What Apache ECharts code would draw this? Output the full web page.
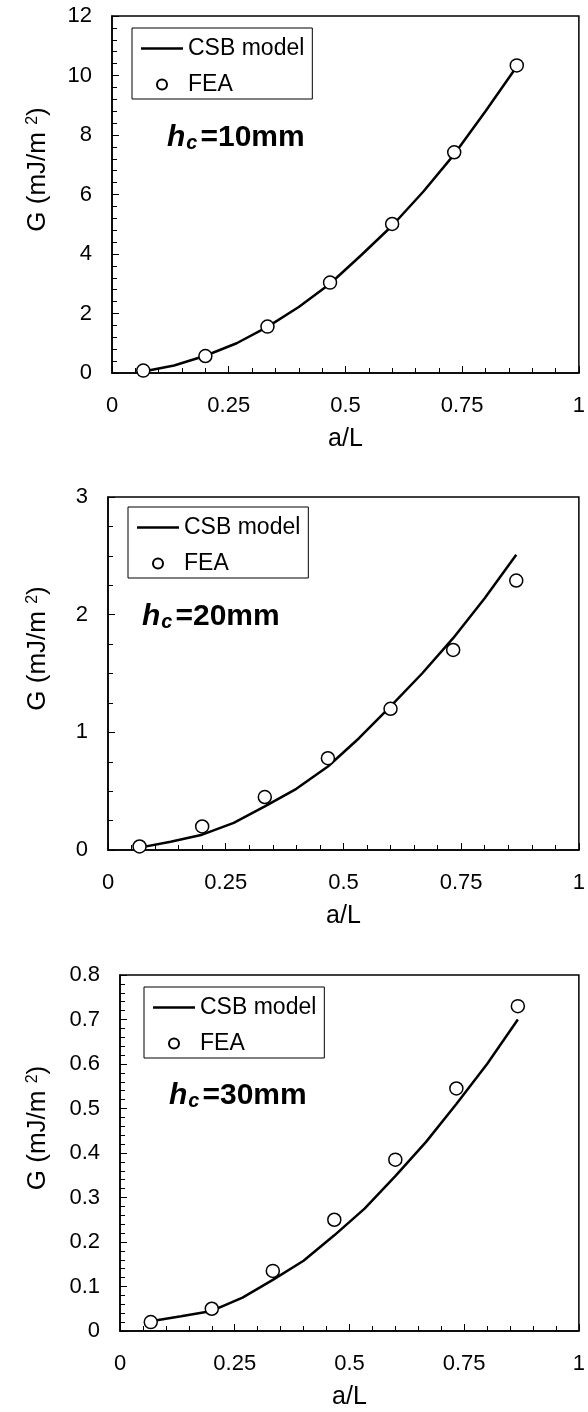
<!DOCTYPE html>
<html>
<head>
<meta charset="utf-8">
<script src="https://cdn.jsdelivr.net/npm/echarts@6/dist/echarts.min.js"></script>
<style>
  html, body { margin: 0; padding: 0; background: #fff; }
  #chart { width: 588px; height: 1412px; }
</style>
</head>
<body>
<div id="chart"></div>
<script>
// a/L positions of the FEA points and of the model curve
const xFEA = [0.067, 0.2, 0.333, 0.467, 0.6, 0.733, 0.867];
const xModel = [0.067, 0.133, 0.2, 0.267, 0.333, 0.4, 0.467, 0.533, 0.6, 0.667, 0.733, 0.8, 0.867];

// h_c = 10mm
const fea10 = [0.08, 0.57, 1.56, 3.04, 5.01, 7.42, 10.34];
const model10 = [0.05, 0.25, 0.58, 1.0, 1.55, 2.22, 3.0, 3.95, 4.95, 6.1, 7.35, 8.8, 10.3];

// h_c = 20mm
const fea20 = [0.03, 0.2, 0.45, 0.78, 1.2, 1.7, 2.29];
const model20 = [0.02, 0.07, 0.13, 0.23, 0.37, 0.52, 0.71, 0.95, 1.22, 1.5, 1.8, 2.14, 2.51];

// h_c = 30mm
const fea30 = [0.02, 0.05, 0.135, 0.25, 0.385, 0.545, 0.73];
const model30 = [0.022, 0.033, 0.045, 0.075, 0.115, 0.158, 0.215, 0.275, 0.348, 0.425, 0.51, 0.6, 0.70];

const seriesNames = ['CSB model', 'FEA'];
const xLabel = 'a/L';
const yLabel = '{t|G (mJ/m }{s|2}{t|)}';

const FONT = 'Liberation Sans, Arial, sans-serif';
// plain horizontal bar for the line entry of the legend (bbox 42 x 10)
const LINE_ICON = 'path://M0,0H0.01V0.01H0Z M0,3.75H42V6.25H0Z M0,9.99H0.01V10H0Z';

function pair(xs, ys) {
    return xs.map((x, i) => [x, ys[i]]);
}

// one entry per panel
const panels = [
    { grid: { left: 112, top: 16, width: 470, height: 357 }, yMax: 12, yStep: 2, yMinor: 5,
      model: model10, fea: fea10, tag: '=10mm', tagPos: [167, 138], legendPos: [132, 28], yGap: 61 },
    { grid: { left: 108, top: 497, width: 473, height: 353 }, yMax: 3, yStep: 1, yMinor: 4,
      model: model20, fea: fea20, tag: '=20mm', tagPos: [142, 617], legendPos: [128, 507], yGap: 57 },
    { grid: { left: 120, top: 975, width: 467, height: 356 }, yMax: 0.8, yStep: 0.1, yMinor: 5,
      model: model30, fea: fea30, tag: '=30mm', tagPos: [169, 1096], legendPos: [144, 987], yGap: 69 }
];

const blackLine = { color: '#000', width: 1.5 };

let option = {
    animation: false,
    backgroundColor: '#fff',
    textStyle: { fontFamily: FONT, color: '#000' },
    grid: [], xAxis: [], yAxis: [], series: [], legend: [], graphic: []
};

panels.forEach((p, i) => {
    option.grid.push(Object.assign({
        show: true, borderColor: '#000', borderWidth: 1.5, backgroundColor: 'transparent'
    }, p.grid));

    option.xAxis.push({
        gridIndex: i, type: 'value', min: 0, max: 1, interval: 0.25,
        axisLine: { show: true, lineStyle: blackLine },
        axisTick: { show: true, inside: true, length: 7, lineStyle: { color: '#000', width: 1 } },
        minorTick: { show: true, splitNumber: 5, length: 5, lineStyle: { color: '#000', width: 1 } },
        splitLine: { show: false },
        axisLabel: { fontSize: 22, color: '#000', fontFamily: FONT, margin: 22 },
        name: xLabel, nameLocation: 'middle', nameGap: 54,
        nameTextStyle: { fontSize: 25, color: '#000', fontFamily: FONT }
    });

    option.yAxis.push({
        gridIndex: i, type: 'value', min: 0, max: p.yMax, interval: p.yStep,
        axisLine: { show: true, lineStyle: blackLine },
        axisTick: { show: true, inside: true, length: 7, lineStyle: { color: '#000', width: 1 } },
        minorTick: { show: true, splitNumber: p.yMinor, length: 5, lineStyle: { color: '#000', width: 1 } },
        splitLine: { show: false },
        axisLabel: { fontSize: 22, color: '#000', fontFamily: FONT, margin: 20 },
        name: yLabel, nameLocation: 'middle', nameGap: p.yGap,
        nameTextStyle: {
            padding: [0, 0, 0, 50],
            rich: {
                t: { fontSize: 26, fontFamily: FONT, color: '#000' },
                s: { fontSize: 16, fontFamily: FONT, color: '#000', verticalAlign: 'top' }
            }
        }
    });

    option.series.push({
        name: seriesNames[0], type: 'line', xAxisIndex: i, yAxisIndex: i,
        data: pair(xModel, p.model), symbol: 'none',
        lineStyle: { color: '#000', width: 2.5 }, itemStyle: { color: '#000' }, z: 2
    });
    option.series.push({
        name: seriesNames[1], type: 'scatter', xAxisIndex: i, yAxisIndex: i,
        data: pair(xFEA, p.fea), symbol: 'circle', symbolSize: 13,
        itemStyle: { color: '#fff', borderColor: '#000', borderWidth: 1.5, opacity: 1 }, z: 3
    });

    option.legend.push({
        left: p.legendPos[0], top: p.legendPos[1], orient: 'vertical',
        data: [
            { name: seriesNames[0], icon: LINE_ICON, itemStyle: { color: '#000', borderWidth: 0 } },
            { name: seriesNames[1] }
        ],
        selectedMode: false,
        backgroundColor: '#fff', borderColor: '#000', borderWidth: 1,
        padding: [9, 8, 3, 9], itemWidth: 42, itemHeight: 10, itemGap: 13,
        textStyle: { fontSize: 23, color: '#000', fontFamily: FONT }
    });

    option.graphic.push({
        type: 'text', x: p.tagPos[0], y: p.tagPos[1], z: 10,
        style: {
            text: '{h|h}{c|c}{t|' + p.tag + '}',
            verticalAlign: 'middle',
            rich: {
                h: { fontSize: 30, fontWeight: 'bold', fontStyle: 'italic', fontFamily: FONT, fill: '#000', color: '#000' },
                c: { fontSize: 20, fontWeight: 'bold', fontStyle: 'italic', fontFamily: FONT, fill: '#000', color: '#000',
                     verticalAlign: 'bottom', padding: [0, 3, 0, 1] },
                t: { fontSize: 30, fontWeight: 'bold', fontFamily: FONT, fill: '#000', color: '#000' }
            }
        }
    });
});

const chart = echarts.init(document.getElementById('chart'));
chart.setOption(option);
</script>
</body>
</html>
